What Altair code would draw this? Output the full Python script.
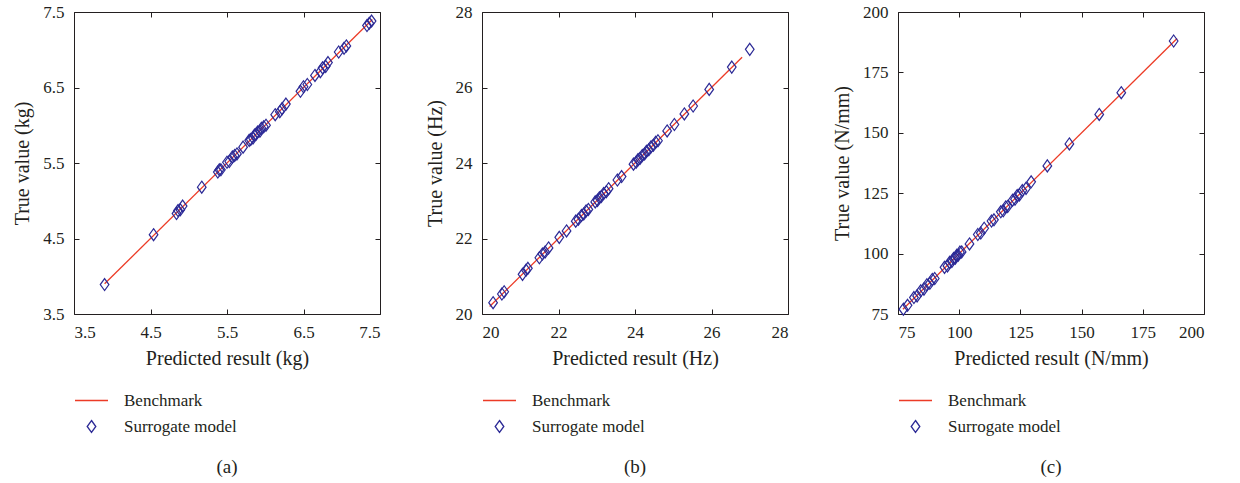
import altair as alt
import pandas as pd

FONT = "Liberation Serif"
TEXT = "#231f20"
RED = "#ec3b26"
BLUE = "#2c2a96"
SERIES = ["Benchmark", "Surrogate model"]
DIAMOND = "M0,-1L0.72,0L0,1L-0.72,0Z"

# Panel (a): mass (kg)
a_pred = [3.90, 4.54, 4.84, 4.86, 4.89, 4.92, 5.17, 5.38, 5.40, 5.42, 5.50, 5.53,
          5.57, 5.60, 5.63, 5.71, 5.79, 5.81, 5.84, 5.86, 5.88, 5.90, 5.93, 5.95,
          5.98, 6.01, 6.13, 6.19, 6.22, 6.27, 6.46, 6.50, 6.55, 6.65, 6.72, 6.75,
          6.79, 6.82, 6.96, 7.03, 7.06, 7.33, 7.36, 7.39]
a_true = [3.89, 4.55, 4.83, 4.87, 4.88, 4.93, 5.18, 5.38, 5.41, 5.41, 5.51, 5.52,
          5.58, 5.60, 5.62, 5.71, 5.80, 5.81, 5.83, 5.87, 5.88, 5.91, 5.92, 5.96,
          5.98, 6.00, 6.14, 6.18, 6.22, 6.28, 6.45, 6.51, 6.54, 6.66, 6.71, 6.76,
          6.78, 6.83, 6.97, 7.02, 7.05, 7.32, 7.35, 7.38]
a_bench = [3.90, 7.40]
a_ticks = [3.5, 4.5, 5.5, 6.5, 7.5]

# Panel (b): frequency (Hz)
b_pred = [20.29, 20.52, 20.58, 21.06, 21.15, 21.20, 21.50, 21.58, 21.65, 21.74,
          22.02, 22.21, 22.45, 22.52, 22.60, 22.66, 22.72, 22.78, 22.96, 23.02,
          23.07, 23.12, 23.18, 23.25, 23.31, 23.54, 23.65, 23.96, 24.03, 24.08,
          24.13, 24.19, 24.25, 24.30, 24.36, 24.42, 24.48, 24.54, 24.60, 24.84,
          25.03, 25.29, 25.52, 25.94, 26.53, 27.00]
b_true = [20.30, 20.53, 20.59, 21.05, 21.16, 21.21, 21.49, 21.59, 21.64, 21.75,
          22.03, 22.20, 22.46, 22.51, 22.61, 22.65, 22.73, 22.77, 22.97, 23.01,
          23.08, 23.11, 23.19, 23.24, 23.32, 23.55, 23.64, 23.97, 24.02, 24.09,
          24.12, 24.20, 24.24, 24.31, 24.35, 24.43, 24.47, 24.55, 24.59, 24.85,
          25.02, 25.30, 25.51, 25.95, 26.54, 27.01]
b_bench = [20.20, 26.80]
b_ticks = [20, 22, 24, 26, 28]

# Panel (c): stiffness (N/mm)
c_pred = [77.2, 78.9, 81.5, 82.8, 84.3, 85.6, 86.8, 88.0, 89.0, 90.0, 94.0, 95.2,
          96.1, 97.0, 97.7, 98.4, 99.0, 99.6, 100.3, 101.0, 104.2, 107.6, 108.8,
          110.2, 113.2, 114.2, 117.0, 118.0, 119.0, 119.8, 121.8, 122.8, 123.7,
          124.6, 125.8, 127.3, 129.4, 136.0, 145.0, 157.2, 166.2, 187.6]
c_true = [77.0, 78.6, 81.8, 82.5, 84.6, 85.3, 87.1, 87.7, 89.3, 89.7, 94.3, 94.9,
          96.4, 96.7, 98.0, 98.1, 99.3, 99.3, 100.6, 100.7, 104.0, 107.9, 108.5,
          110.5, 113.5, 114.0, 117.3, 117.7, 119.3, 119.5, 122.1, 122.5, 124.0,
          124.3, 126.1, 127.0, 129.7, 136.3, 145.4, 157.6, 166.6, 188.0]
c_bench = [77.0, 189.0]
c_ticks = [75, 100, 125, 150, 175, 200]

W, H = 306, 302


def panel(pred, true, bench, ticks, fmt, unit, letter):
    dom = [ticks[0], ticks[-1]]
    pts = pd.DataFrame({"x": pred, "y": true, "series": SERIES[1]})
    ln = pd.DataFrame({"x": bench, "y": bench, "series": SERIES[0]})
    xs = alt.Scale(domain=dom, nice=False, zero=False)
    ys = alt.Scale(domain=dom, nice=False, zero=False)
    legend = alt.Legend(
        title=None, orient="none", legendX=0, legendY=371,
        labelFont=FONT, labelFontSize=17, labelColor=TEXT,
        labelOffset=15, rowPadding=8, symbolStrokeWidth=1.3, padding=0,
    )
    color = alt.Color("series:N", scale=alt.Scale(domain=SERIES, range=[RED, BLUE]), legend=legend)
    inner = dict(values=ticks, offset=-5, tickSize=5, domain=False, grid=False,
                 tickColor=TEXT, tickWidth=1)
    line = alt.Chart(ln).mark_line(strokeWidth=1.3).encode(
        x=alt.X("x:Q", scale=xs, axis=alt.Axis(
            orient="bottom", format=fmt, title=f"Predicted result ({unit})",
            labelPadding=10, titlePadding=8, **inner)),
        y=alt.Y("y:Q", scale=ys, axis=alt.Axis(
            orient="left", format=fmt, title=f"True value ({unit})",
            labelPadding=10, titlePadding=10, **inner)),
        color=color,
    )
    points = alt.Chart(pts).mark_point(filled=False, strokeWidth=1.2, opacity=1).encode(
        x=alt.X("x:Q", scale=xs, axis=alt.Axis(orient="top", labels=False, title=None, **inner)),
        y=alt.Y("y:Q", scale=ys, axis=alt.Axis(orient="right", labels=False, title=None, **inner)),
        color=color,
        shape=alt.Shape("series:N", scale=alt.Scale(domain=SERIES, range=["stroke", DIAMOND]), legend=legend),
        size=alt.Size("series:N", scale=alt.Scale(type="ordinal", domain=SERIES, range=[1089, 144]), legend=legend),
    )
    return alt.layer(line, points).resolve_axis(x="independent", y="independent").properties(
        width=W, height=H,
        title=alt.TitleParams(letter, orient="bottom", offset=22, font=FONT, fontSize=19,
                              fontWeight="normal", color=TEXT, anchor="middle"),
    )


chart = alt.hconcat(
    panel(a_pred, a_true, a_bench, a_ticks, ".1f", "kg", "(a)"),
    panel(b_pred, b_true, b_bench, b_ticks, "d", "Hz", "(b)"),
    panel(c_pred, c_true, c_bench, c_ticks, "d", "N/mm", "(c)"),
    spacing=43,
).resolve_scale(color="independent", shape="independent", size="independent").configure_axis(
    labelFont=FONT, labelFontSize=17, labelColor=TEXT,
    titleFont=FONT, titleFontSize=20, titleColor=TEXT, titleFontWeight="normal",
).configure_view(stroke=TEXT, strokeWidth=1).properties(
    padding={"left": 12, "top": 2, "right": 5, "bottom": 0},
    background="white",
)

chart.save("out.html", embed_options={"renderer": "svg", "actions": False})
